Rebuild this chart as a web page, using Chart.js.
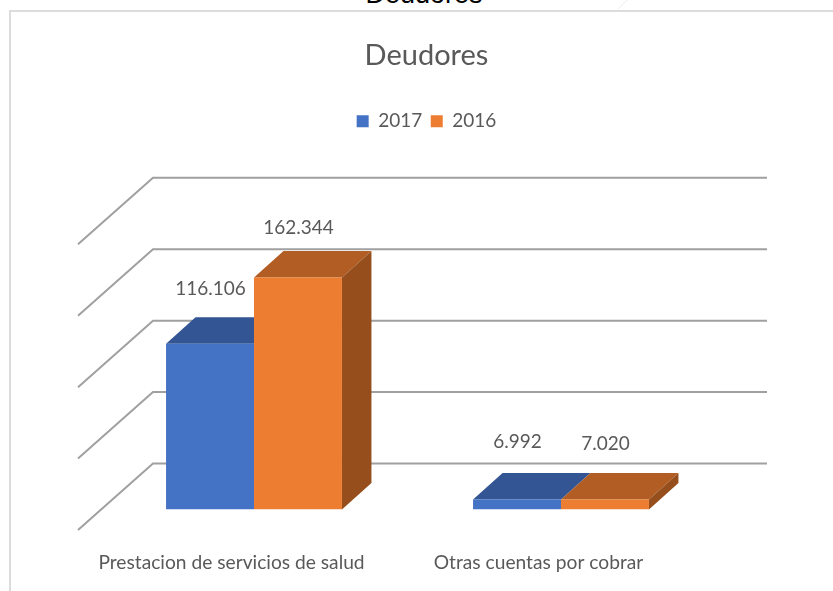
<!DOCTYPE html>
<html><head><meta charset="utf-8">
<script src="https://cdn.jsdelivr.net/npm/chart.js@4"></script>
<style>
html,body{margin:0;padding:0;background:#fff;overflow:hidden}
#wrap{position:relative;width:833px;height:591px;overflow:hidden}
#frame{position:absolute;left:9px;top:10px;right:-5px;bottom:-5px;border-left:2px solid #dcdcdc;border-top:2px solid #dcdcdc}
#cut{position:absolute;left:0;width:833px;top:-22px;text-align:center;font:27px "Liberation Sans";color:#000;line-height:32px;padding-left:15px;box-sizing:border-box}
canvas{position:absolute;left:0;top:0}
</style></head><body>
<div id="wrap"><div id="cut">Deudores</div><div id="frame"></div><canvas id="c" width="833" height="591"></canvas></div>
<script>
const categories = ["Prestacion de servicios de salud", "Otras cuentas por cobrar"];
const seriesNames = ["2017", "2016"];
const values2017 = [116106, 6992];
const values2016 = [162344, 7020];
const chartTitle = "Deudores";
const yTicks = [0, 50000, 100000, 150000, 200000];

const FRONT = ["#4472C4", "#ED7D31"], TOP = ["#335593", "#B15D23"], SIDE = "#964F1C";
const GRID = "#A0A0A0", TEXT = "#595959";
const fmt = v => String(v).replace(/\B(?=(\d{3})+$)/g, ".");

function poly(ctx, pts, fill) {
  ctx.beginPath(); pts.forEach((p, i) => i ? ctx.lineTo(p[0], p[1]) : ctx.moveTo(p[0], p[1]));
  ctx.closePath(); ctx.fillStyle = fill; ctx.fill();
}
const floor3d = {
  id: "floor3d",
  beforeDatasetsDraw(chart) {
    const { ctx, scales: { y } } = chart, wall = [-46, 20.5], left = [78, 153], right = 767;
    ctx.save();
    ctx.strokeStyle = "#ececec"; ctx.lineWidth = 1;
    ctx.beginPath(); ctx.moveTo(627, 0); ctx.lineTo(618, 9); ctx.stroke();
    ctx.strokeStyle = GRID; ctx.lineWidth = 2;
    yTicks.forEach(v => {
      const p = y.getPixelForValue(v);
      ctx.beginPath();
      ctx.moveTo(left[0], p + wall[1]); ctx.lineTo(left[1], p + wall[0]); ctx.lineTo(right, p + wall[0]);
      ctx.stroke();
    });
    const dx = 29.5, dy = -26.5, last = chart.data.datasets.length - 1;
    chart.data.datasets.forEach((d, di) => {
      chart.getDatasetMeta(di).data.forEach(b => {
        const w = b.width / 2, l = b.x - w, r = b.x + w;
        poly(ctx, [[l, b.y], [r, b.y], [r + dx, b.y + dy], [l + dx, b.y + dy]], TOP[di]);
        if (di === last) poly(ctx, [[r, b.y], [r + dx, b.y + dy], [r + dx, b.base + dy], [r, b.base]], SIDE);
      });
    });
    ctx.restore();
  },
  afterDatasetsDraw(chart) {
    const { ctx } = chart, lift = [[55, 58], [50, 56]];
    ctx.save(); ctx.fillStyle = TEXT; ctx.font = '19px Lato'; ctx.textAlign = "center"; ctx.textBaseline = "middle";
    chart.data.datasets.forEach((d, di) => {
      chart.getDatasetMeta(di).data.forEach((b, i) => {
        ctx.fillText(fmt(d.data[i]), b.x + 0.5, b.y - lift[di][i]);
      });
    });
    ctx.restore();
  }
};
const spacer = { grid: { display: false }, border: { display: false }, ticks: { display: false } };

new Chart(document.getElementById("c"), {
  type: "bar",
  data: {
    labels: categories,
    datasets: [
      { label: seriesNames[0], data: values2017, backgroundColor: FRONT[0], xAxisID: "x", yAxisID: "y" },
      { label: seriesNames[1], data: values2016, backgroundColor: FRONT[1], xAxisID: "x", yAxisID: "y" }
    ]
  },
  plugins: [floor3d],
  options: {
    responsive: false, animation: false,
    layout: { padding: { left: 20, right: 0, top: 38, bottom: 0 } },
    datasets: { bar: { categoryPercentage: 0.573, barPercentage: 1 } },
    scales: {
      x: { grid: { display: false }, border: { display: false },
           afterFit: s => { s.height = 81.5; },
           ticks: { color: TEXT, font: { family: "Lato", size: 19.2 }, labelOffset: -22.5, padding: 33.5, maxRotation: 0, autoSkip: false } },
      x2: { ...spacer, type: "category", position: "top", afterFit: s => { s.height = 83; } },
      y: { min: 0, max: 200000, grid: { display: false }, border: { display: false },
           afterFit: s => { s.width = 80.5; },
           afterBuildTicks: s => { s.ticks = yTicks.map(value => ({ value })); },
           ticks: { display: false } },
      y2: { ...spacer, type: "linear", position: "right", afterFit: s => { s.width = 118.5; } }
    },
    plugins: {
      tooltip: { enabled: false },
      title: { display: true, text: chartTitle, color: TEXT, font: { family: "Lato", size: 29, weight: "normal" }, padding: { top: 0, bottom: 30.5 } },
      legend: { position: "top", labels: { color: TEXT, font: { family: "Lato", size: 19 }, boxWidth: 12, boxHeight: 12, padding: 8.5 } }
    }
  }
});
</script></body></html>
